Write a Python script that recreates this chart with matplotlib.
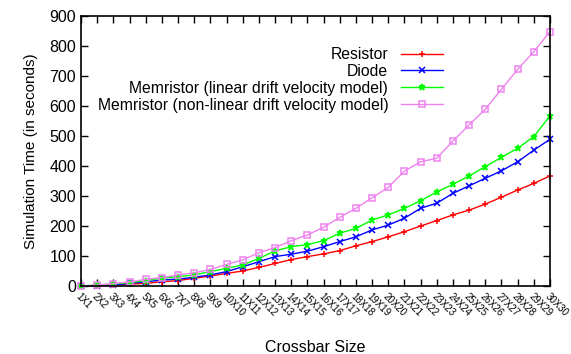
import matplotlib
matplotlib.use("Agg")
import matplotlib.pyplot as plt

plt.rcParams['font.family'] = ['Liberation Sans', 'DejaVu Sans']

# crossbar sizes 1X1 .. 30X30
sizes = [f"{n}X{n}" for n in range(1, 31)]

resistor = [0, 1, 3, 6, 9, 14, 18, 26, 33, 42, 50, 62, 75, 88, 98,
            107, 118, 134, 148, 164, 181, 200, 218, 237, 253, 273, 296, 320, 342, 367]
diode = [0, 1, 3, 9, 14, 20, 23, 29, 37, 48, 64, 81, 98, 106, 116,
         131, 148, 164, 187, 203, 226, 259, 276, 309, 334, 359, 384, 414, 453, 489]
memristor_linear = [0, 3, 7, 11, 18, 26, 31, 37, 48, 59, 70, 92, 117, 131, 138,
                    151, 176, 192, 220, 237, 259, 284, 314, 339, 367, 398, 429, 459, 498, 567]
memristor_nonlinear = [0, 3, 8, 14, 22, 28, 37, 44, 55, 72, 87, 111, 128, 151, 170,
                       196, 229, 259, 294, 329, 383, 414, 426, 483, 537, 589, 656, 722, 781, 848]

series = [
    ("Resistor", resistor, "#ff0000", "+"),
    ("Diode", diode, "#0000ff", "x"),
    ("Memristor (linear drift velocity model)", memristor_linear, "#00ff00", "*"),
    ("Memristor (non-linear drift velocity model)", memristor_nonlinear, "#ee82ee", "s"),
]

fig = plt.figure(figsize=(5.71, 3.54), dpi=100)
ax = fig.add_axes([0.1419, 0.1921, 0.8213, 0.7627])

x = list(range(len(sizes)))
for label, vals, color, marker in series:
    mfc = "none" if marker == "s" else color
    ms = 4 if marker == "s" else 5
    ax.plot(x, vals, color=color, marker=marker, markersize=ms, markerfacecolor=mfc,
            markeredgewidth=1.1, linewidth=1.0, label=label, clip_on=False)

ax.set_xlim(0, len(sizes) - 1)
ax.set_ylim(0, 900)
ax.set_yticks(range(0, 901, 100))
ax.set_xticks(x)
ax.set_xticklabels(sizes, rotation=-45, ha="left", va="top", rotation_mode="anchor", fontsize=7)
ax.tick_params(axis="y", labelsize=11.5)
ax.tick_params(direction="in", top=True, right=True, length=5, width=1)
for sp in ax.spines.values():
    sp.set_linewidth(1.2)

ax.set_xlabel("Crossbar Size", fontsize=11.5, labelpad=16)
ax.set_ylabel("Simulation Time (in seconds)", fontsize=11, labelpad=8)

leg = ax.legend(loc="upper right", bbox_to_anchor=(0.772, 0.885), markerfirst=False,
                frameon=False, fontsize=11.3, handlelength=2.7, handletextpad=0.8,
                labelspacing=0.12, borderaxespad=0, borderpad=0)

fig.savefig("out.png", dpi=100)
